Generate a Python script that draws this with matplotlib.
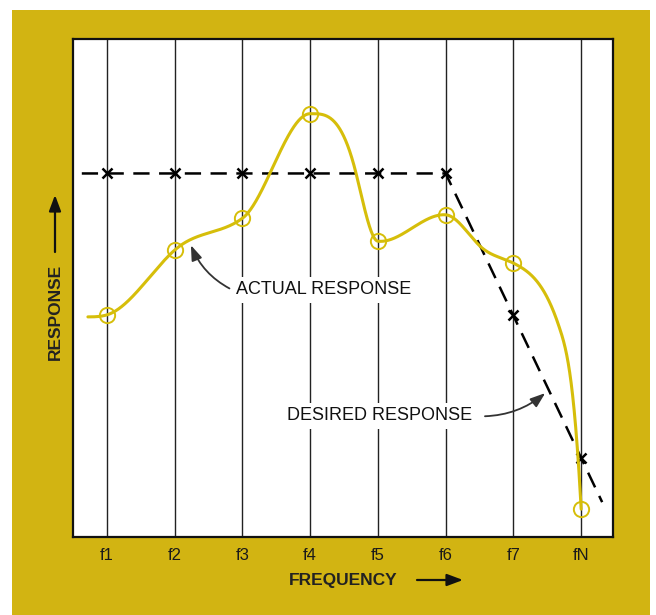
import numpy as np
import matplotlib

matplotlib.use("Agg")
import matplotlib.pyplot as plt
from matplotlib.patches import Rectangle, FancyArrowPatch

plt.rcParams["font.family"] = ["Liberation Sans", "DejaVu Sans"]

# frequency points along the x axis
freq_labels = ["f1", "f2", "f3", "f4", "f5", "f6", "f7", "fN"]
freq_pos = [1, 2, 3, 4, 5, 6, 7, 8]

# desired response: flat through f6, then rolling off
desired = [73, 73, 73, 73, 73, 73, 44.5, 15.8]
desired_start = (0.63, 73)
desired_end = (8.31, 7.0)

# actual (measured) response at each frequency, plus the local slope of the curve
actual = [44.6, 57.6, 64.0, 85.0, 59.4, 64.7, 55.0, 5.6]
actual_slope = [4, 12, 10, 0, -1.5, -1, -7, -250]

# extra points traced along the actual response curve between measurements
trace_x = [0.72, 4.68, 6.5, 7.66]
trace_y = [44.2, 72.9, 58.5, 42.8]
trace_slope = [0, -55, -13, -40]

GOLD = "#d2b412"
CURVE = "#d6be0a"


def hermite(xk, yk, mk, n=300):
    """Cubic Hermite curve through the knots with the given slopes."""
    xs, ys = [], []
    for i in range(len(xk) - 1):
        h = xk[i + 1] - xk[i]
        t = np.linspace(0, 1, n)
        h00 = 2 * t**3 - 3 * t**2 + 1
        h10 = t**3 - 2 * t**2 + t
        h01 = -2 * t**3 + 3 * t**2
        h11 = t**3 - t**2
        ys.append(h00 * yk[i] + h10 * h * mk[i] + h01 * yk[i + 1] + h11 * h * mk[i + 1])
        xs.append(xk[i] + h * t)
    return np.concatenate(xs), np.concatenate(ys)


fig = plt.figure(figsize=(6.56, 6.15), dpi=100, facecolor="white")
fig.patches.append(
    Rectangle((12 / 656, 0), (650 - 12) / 656, 1 - 10 / 615,
              transform=fig.transFigure, facecolor=GOLD, edgecolor="none", zorder=-5)
)

ax = fig.add_axes([73 / 656, 78 / 615, 540 / 656, 498 / 615])
ax.set_zorder(1)
ax.set_facecolor("white")
ax.set_xlim(0.5, 8.47)
ax.set_ylim(0, 100)
for s in ax.spines.values():
    s.set_linewidth(1.6)
    s.set_color("#111111")

ax.vlines(freq_pos, 0, 100, color="#222222", lw=1.0, zorder=1)

# desired response, dashed with x marks at each frequency
dx = [desired_start[0], freq_pos[5], desired_end[0]]
dy = [desired_start[1], desired[5], desired_end[1]]
ax.plot(dx, dy, color="black", lw=1.8, dashes=(6.5, 3.8), zorder=3)
ax.plot(freq_pos, desired, ls="none", marker="x", ms=6.5, mew=1.8, color="black", zorder=4)

# actual response curve with open circles at the measured points
knots = sorted(zip(freq_pos + trace_x, actual + trace_y, actual_slope + trace_slope))
kx, ky, km = (list(v) for v in zip(*knots))
cx, cy = hermite(kx, ky, km)
ax.plot(cx, cy, color=CURVE, lw=2.2, zorder=5, solid_capstyle="round")
ax.plot(freq_pos, actual, ls="none", marker="o", ms=11, mfc="none", mec=CURVE, mew=1.4, zorder=5)

box = dict(facecolor="white", edgecolor="none", pad=3)
ax.annotate("ACTUAL RESPONSE", xy=(2.24, 58.6), xytext=(4.2, 49.6),
            ha="center", va="center", fontsize=13, color="#111111", bbox=box, zorder=6,
            arrowprops=dict(arrowstyle="-|>,head_length=0.7,head_width=0.25", color="#333333",
                            lw=1.3, relpos=(0, 0.4), connectionstyle="arc3,rad=-0.2",
                            shrinkA=2, shrinkB=0))
ax.annotate("DESIRED RESPONSE", xy=(7.47, 28.9), xytext=(5.03, 24.3),
            ha="center", va="center", fontsize=13, color="#111111", bbox=box, zorder=6,
            arrowprops=dict(arrowstyle="-|>,head_length=0.7,head_width=0.25", color="#333333",
                            lw=1.3, relpos=(1, 0.5), connectionstyle="arc3,rad=0.2",
                            shrinkA=6, shrinkB=0))

ax.set_xticks(freq_pos)
ax.set_xticklabels(freq_labels, fontsize=12, color="#1a1a1a")
ax.set_yticks([])
ax.tick_params(axis="x", length=0, pad=8)

# axis titles with arrows
fig.text(55 / 656, 1 - 312 / 615, "RESPONSE", rotation=90, ha="center", va="center",
         fontsize=12.5, fontweight="bold", color="#222222")
fig.text(343 / 656, 1 - 580 / 615, "FREQUENCY", ha="center", va="center",
         fontsize=12.5, fontweight="bold", color="#222222")
arrow = dict(arrowstyle="-|>,head_length=0.8,head_width=0.3", color="#111111", lw=1.6,
             shrinkA=0, shrinkB=0, mutation_scale=12)
fig.add_artist(FancyArrowPatch(
    (55 / 656, 1 - 252 / 615), (55 / 656, 1 - 195 / 615),
    transform=fig.transFigure, **arrow))
fig.add_artist(FancyArrowPatch(
    (417 / 656, 1 - 580 / 615), (463 / 656, 1 - 580 / 615),
    transform=fig.transFigure, **arrow))

fig.savefig("out.png", dpi=100, facecolor="white")
